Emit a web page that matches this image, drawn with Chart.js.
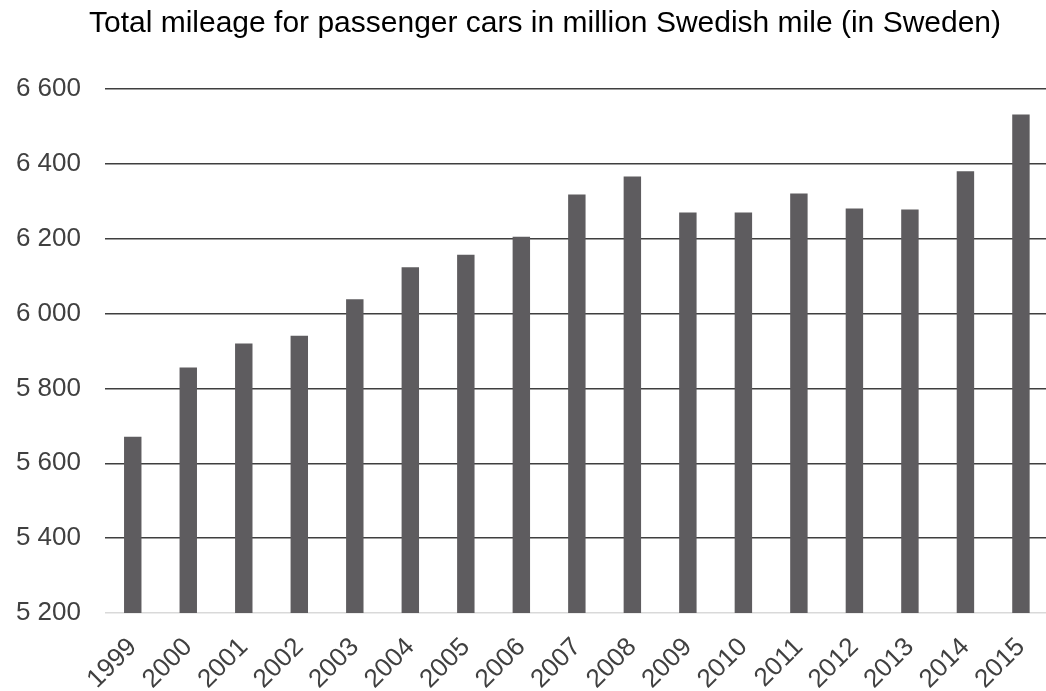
<!DOCTYPE html>
<html>
<head>
<meta charset="utf-8">
<script src="https://cdn.jsdelivr.net/npm/chart.js@4/dist/chart.umd.min.js"></script>
<style>
  html, body { margin: 0; padding: 0; background: #fff; overflow: hidden; }
  #wrap { width: 1054px; height: 691px; }
</style>
</head>
<body>
<div id="wrap"><canvas id="c" width="1054" height="691"></canvas></div>
<script>
// Total mileage, million Swedish miles (1 Swedish mile = 10 km)
const years = ['1999','2000','2001','2002','2003','2004','2005','2006','2007','2008','2009','2010','2011','2012','2013','2014','2015'];
const mileage = [5671, 5856, 5920, 5941, 6038, 6124, 6157, 6205, 6318, 6366, 6270, 6270, 6321, 6281, 6278, 6380, 6532];
const yMin = 5200;
const yMax = 6600;
const yStep = 200;
const titleText = 'Total mileage for passenger cars in million Swedish mile (in Sweden)';

const fmt = v => String(v).replace(/\B(?=(\d{3})+(?!\d))/g, ' ');

// Title drawn centred at a fixed point above the plot
const headline = {
  id: 'headline',
  afterDraw(chart) {
    const ctx = chart.ctx;
    ctx.save();
    ctx.fillStyle = '#000';
    ctx.font = '30px "Liberation Sans", Arial, sans-serif';
    ctx.textAlign = 'center';
    ctx.textBaseline = 'alphabetic';
    ctx.fillText(titleText, 545, 32);
    ctx.restore();
  }
};

new Chart(document.getElementById('c'), {
  type: 'bar',
  data: {
    labels: years,
    datasets: [{
      data: mileage,
      backgroundColor: '#5e5c5f',
      borderWidth: 0,
      categoryPercentage: 1,
      barPercentage: 0.314
    }]
  },
  plugins: [headline],
  options: {
    responsive: false,
    animation: false,
    layout: { padding: { left: 0, right: 0, top: 89, bottom: 0 } },
    plugins: {
      legend: { display: false },
      tooltip: { enabled: false },
      title: { display: false }
    },
    scales: {
      x: {
        grid: { display: false },
        border: { display: false },
        ticks: {
          color: '#404040',
          font: { family: 'Liberation Sans, Arial, sans-serif', size: 26 },
          minRotation: 45,
          maxRotation: 45,
          padding: 11
        },
        afterFit: s => { s.height = 78; }
      },
      y: {
        min: yMin,
        max: yMax,
        border: { display: false },
        grid: {
          drawTicks: false,
          lineWidth: 1.4,
          color: ctx => ctx.tick && ctx.tick.value === yMin ? '#d9d9d9' : '#3f3f3f'
        },
        ticks: {
          stepSize: yStep,
          color: '#404040',
          padding: 24,
          font: { family: 'Liberation Sans, Arial, sans-serif', size: 26 },
          callback: v => fmt(v)
        },
        afterFit: s => { s.width = 105; }
      }
    }
  }
});
</script>
</body>
</html>
